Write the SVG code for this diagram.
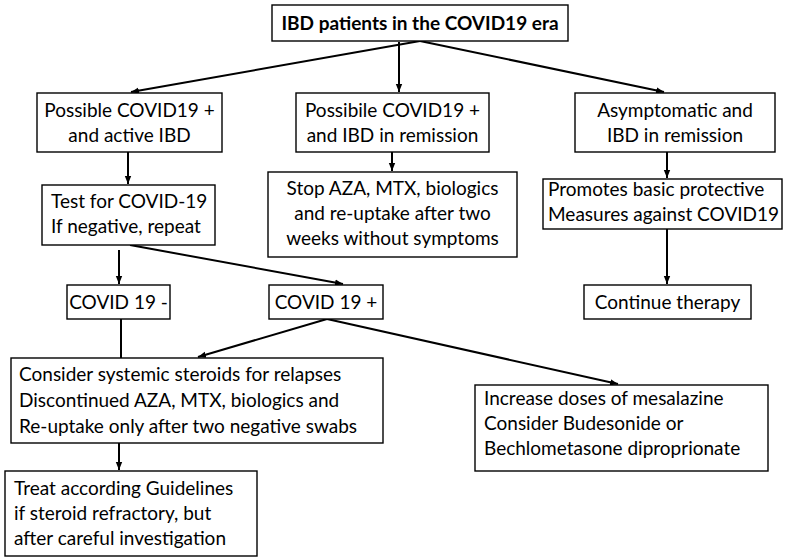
<svg xmlns="http://www.w3.org/2000/svg" width="794" height="558" viewBox="0 0 794 558">
<defs>
<marker id="ah" viewBox="0 0 10 10" refX="10" refY="5" markerWidth="8" markerHeight="8" markerUnits="userSpaceOnUse" orient="auto">
<path d="M0,1 L10,5 L0,9 Z" fill="#000"/>
</marker>
<style>
rect{fill:#fff;stroke:#000;stroke-width:1.4}
text{font-family:Lato,"Liberation Sans",sans-serif;font-size:19px;fill:#000}
.c{text-anchor:middle}
.b{font-weight:bold;font-size:19px}
.ln{stroke:#000;stroke-width:2;fill:none}
.ar{marker-end:url(#ah)}
</style>
</defs>
<rect x="0" y="0" width="794" height="558" style="fill:#fff;stroke:none"/>
<g id="connectors">
<line class="ln ar" x1="420" y1="41" x2="131" y2="92"/>
<line class="ln ar" x1="399" y1="42" x2="399" y2="92"/>
<line class="ln ar" x1="420" y1="41" x2="664" y2="92"/>
<line class="ln ar" x1="128" y1="152" x2="128" y2="184"/>
<line class="ln ar" x1="392" y1="152" x2="392" y2="171"/>
<line class="ln ar" x1="667" y1="152" x2="667" y2="178"/>
<line class="ln ar" x1="667" y1="229" x2="667" y2="284"/>
<line class="ln ar" x1="119" y1="250" x2="119" y2="284"/>
<line class="ln ar" x1="130" y1="245" x2="343" y2="284"/>
<line class="ln" x1="121" y1="319" x2="121" y2="358"/>
<line class="ln ar" x1="327" y1="319" x2="198" y2="357"/>
<line class="ln ar" x1="327" y1="319" x2="618" y2="384"/>
<line class="ln ar" x1="119" y1="443" x2="119" y2="470"/>
</g>
<g id="title">
<rect x="272" y="5" width="296" height="36"/>
<text class="c b" x="420" y="30">IBD patients in the COVID19 era</text>
</g>
<g id="active">
<rect x="37" y="93" width="185" height="59"/>
<text class="c" x="129.5" y="117">Possible COVID19 +</text>
<text class="c" x="129.5" y="142">and active IBD</text>
</g>
<g id="remission">
<rect x="296" y="93" width="193" height="59"/>
<text class="c" x="392.5" y="117">Possibile COVID19 +</text>
<text class="c" x="392.5" y="142">and IBD in remission</text>
</g>
<g id="asymptomatic">
<rect x="575" y="93" width="200" height="59"/>
<text class="c" x="675" y="117">Asymptomatic and</text>
<text class="c" x="675" y="142">IBD in remission</text>
</g>
<g id="test">
<rect x="42" y="185" width="173" height="60"/>
<text x="51" y="208">Test for COVID-19</text>
<text x="51" y="233">If negative, repeat</text>
</g>
<g id="stop">
<rect x="268" y="172" width="249" height="85"/>
<text class="c" x="392.5" y="195">Stop AZA, MTX, biologics</text>
<text class="c" x="392.5" y="220">and re-uptake after two</text>
<text class="c" x="392.5" y="245">weeks without symptoms</text>
</g>
<g id="promotes">
<rect x="543" y="179" width="239" height="50"/>
<text x="548" y="196">Promotes basic protective</text>
<text x="548" y="221">Measures against COVID19</text>
</g>
<g id="continue">
<rect x="584" y="285" width="167" height="34"/>
<text class="c" x="667.5" y="309">Continue therapy</text>
</g>
<g id="neg">
<rect x="67" y="285" width="103" height="34"/>
<text class="c" x="118.5" y="309">COVID 19 -</text>
</g>
<g id="pos">
<rect x="269" y="285" width="114" height="34"/>
<text class="c" x="326" y="309">COVID 19 +</text>
</g>
<g id="consider">
<rect x="11" y="358" width="372" height="85"/>
<text x="19" y="381">Consider systemic steroids for relapses</text>
<text x="19" y="407">Discontinued AZA, MTX, biologics and</text>
<text x="19" y="433">Re-uptake only after two negative swabs</text>
</g>
<g id="treat">
<rect x="5" y="471" width="252" height="85"/>
<text x="14" y="495">Treat according Guidelines</text>
<text x="14" y="520">if steroid refractory, but</text>
<text x="14" y="545">after careful investigation</text>
</g>
<g id="increase">
<rect x="475" y="385" width="293" height="86"/>
<text x="484" y="405">Increase doses of mesalazine</text>
<text x="484" y="430">Consider Budesonide or</text>
<text x="484" y="455">Bechlometasone diproprionate</text>
</g>
</svg>
